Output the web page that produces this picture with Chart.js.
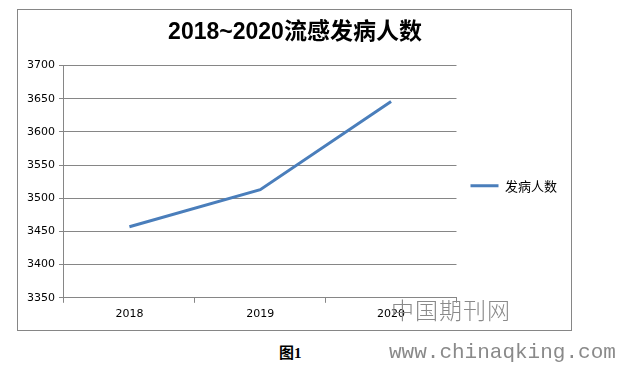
<!DOCTYPE html>
<html>
<head>
<meta charset="utf-8">
<script src="https://cdn.jsdelivr.net/npm/chart.js@4"></script>
<style>
  html, body { margin: 0; padding: 0; background: #fff; }
  body { width: 619px; height: 366px; position: relative; overflow: hidden; }
  #frame {
    position: absolute; left: 17px; top: 9px;
    width: 553px; height: 320px;
    border: 1px solid #868686;
  }
  #frame canvas { display: block; }
  .caption {
    position: absolute; left: 279px; top: 341px;
    font: bold 15px "Liberation Serif", "Noto Sans CJK SC", serif;
    color: #000;
  }
  .wm1 {
    position: absolute; left: 391px; top: 292px;
    font: 23px "Noto Sans CJK SC", serif; font-weight: 300;
    color: #8a8a8a; letter-spacing: 1px;
  }
  .wm2 {
    position: absolute; left: 389px; top: 341px;
    font: 21px "Liberation Mono", "DejaVu Sans Mono", monospace;
    color: #8a8a8a;
  }
</style>
</head>
<body>
<div id="frame"><canvas id="c" width="553" height="320"></canvas></div>
<div class="caption">图1</div>
<div class="wm1">中国期刊网</div>
<div class="wm2">www.chinaqking.com</div>

<script>
/* ── 데이터 ─────────────────────────────────────── */
const TITLE      = '2018~2020流感发病人数';
const years      = ['2018', '2019', '2020'];
const cases      = [3457, 3513, 3646];
const seriesName = '发病人数';
const yMin = 3350, yMax = 3700, yStep = 50;

const GRID  = '#868686';
const BLUE  = '#4A7EBB';
const TICKF = { family: "'DejaVu Sans', sans-serif", size: 11 };

new Chart(document.getElementById('c').getContext('2d'), {
  type: 'line',
  data: {
    labels: years,
    datasets: [{
      label: seriesName,
      data: cases,
      borderColor: BLUE,
      backgroundColor: BLUE,
      borderWidth: 3,
      pointRadius: 0,
      tension: 0,
    }],
  },
  options: {
    responsive: false,
    animation: false,
    layout: { padding: { left: 5, right: 4, top: 0, bottom: 4 } },
    plugins: {
      title: {
        display: true,
        text: TITLE,
        color: '#000',
        font: { family: "'Liberation Sans', 'Noto Sans CJK SC', sans-serif", size: 23, weight: 'bold', lineHeight: 1.2 },
        padding: { top: 9, bottom: 19 },
      },
      legend: {
        position: 'right',
        title: { display: true, text: ' ', padding: { top: 10, bottom: 10 }, font: { size: 13 } },
        labels: {
          color: '#000',
          font: { family: "'Noto Sans CJK SC', sans-serif", size: 13 },
          usePointStyle: true,
          pointStyle: 'line',
          pointStyleWidth: 28,
          padding: 14,
        },
      },
      tooltip: { enabled: false },
    },
    scales: {
      x: {
        offset: true,
        grid: { display: true, drawOnChartArea: false, drawTicks: true, tickLength: 5, color: GRID, offset: true },
        border: { color: GRID },
        ticks: { color: '#000', font: TICKF, padding: 5 },
      },
      y: {
        min: yMin, max: yMax,
        grid: { color: GRID, tickLength: 5 },
        border: { color: GRID },
        ticks: { stepSize: yStep, color: '#000', font: TICKF, padding: 4, callback: v => String(v) },
      },
    },
  },
});
</script>
</body>
</html>
